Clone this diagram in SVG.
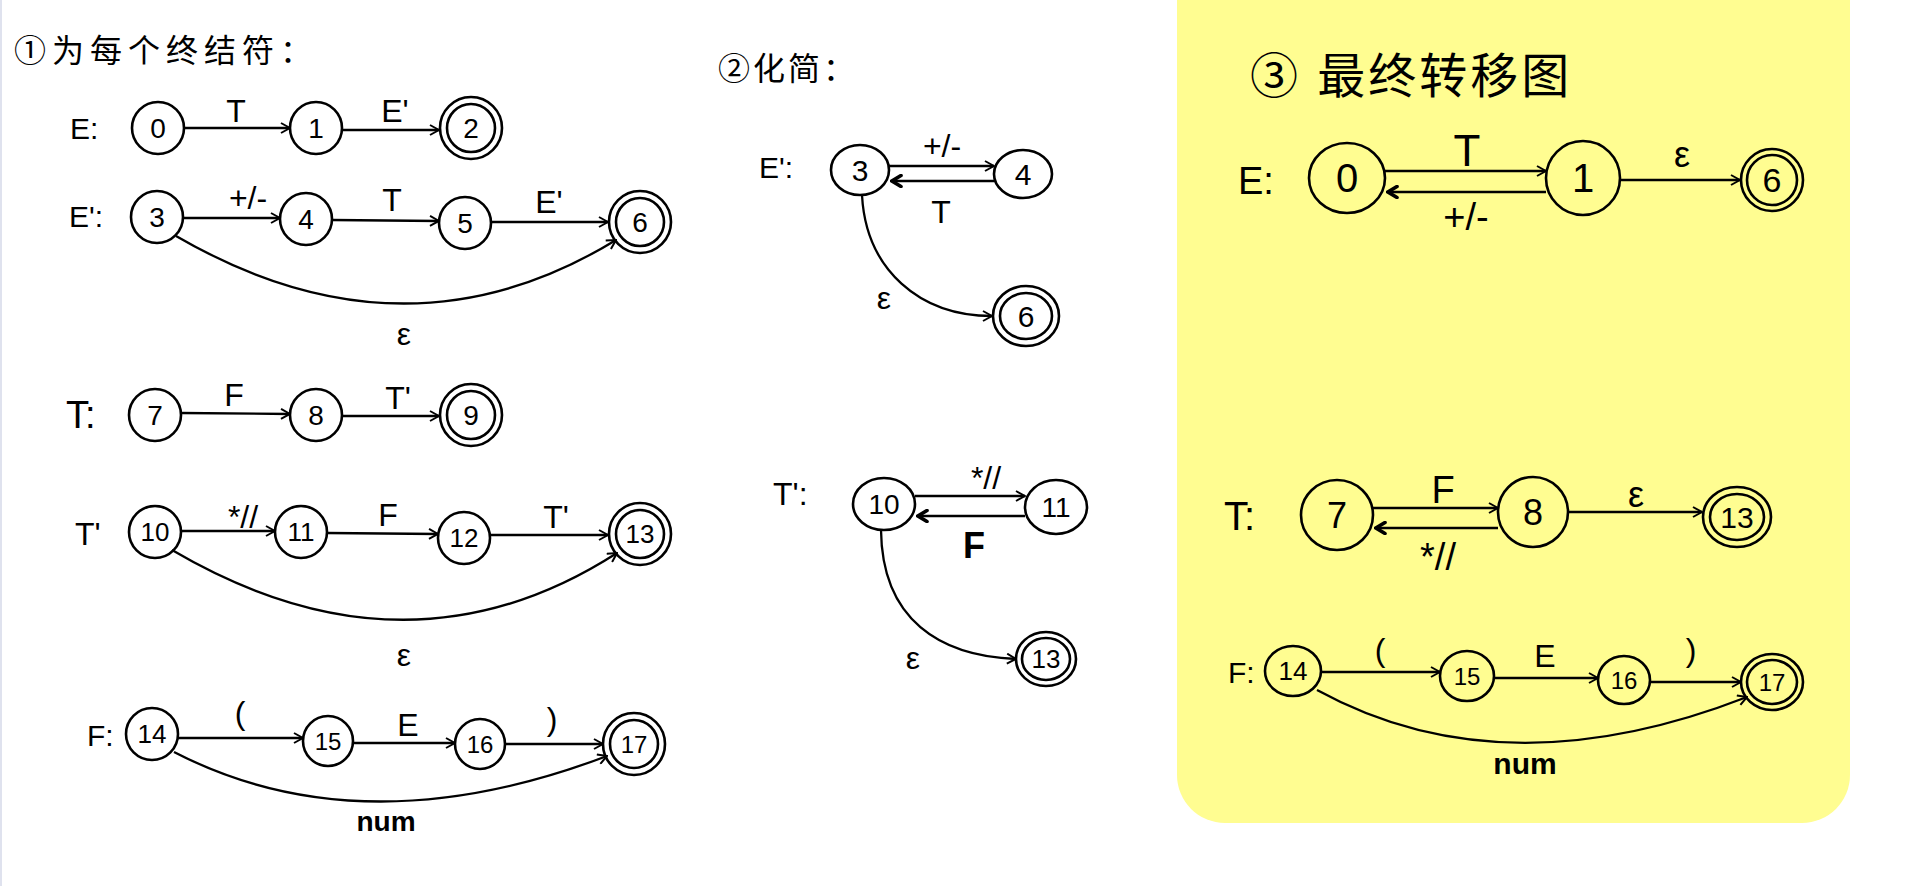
<svg xmlns="http://www.w3.org/2000/svg" width="1907" height="886" viewBox="0 0 1907 886">
<style>
.n{fill:none;stroke:#000;stroke-width:2.6}
.e{fill:none;stroke:#000;stroke-width:2.3;marker-end:url(#arr)}
.eb{fill:none;stroke:#000;stroke-width:2.3;marker-end:url(#arrb)}
.t{font-family:"Liberation Sans","Noto Sans",sans-serif;fill:#000}
.c{text-anchor:middle}
.v{text-anchor:middle;dominant-baseline:central}
.cjk{font-family:"Liberation Sans","Noto Sans CJK SC",sans-serif;fill:#000}
</style>
<defs>
<marker id="arr" viewBox="0 0 12 12" refX="11" refY="6" markerWidth="12" markerHeight="12" markerUnits="userSpaceOnUse" orient="auto"><path d="M2,1 L11,6 L2,11" fill="none" stroke="#000" stroke-width="2"/></marker>
<marker id="arrb" viewBox="0 0 14 14" refX="12" refY="7" markerWidth="14" markerHeight="14" markerUnits="userSpaceOnUse" orient="auto"><path d="M3,1.5 L12,7 L3,12.5" fill="none" stroke="#000" stroke-width="3.6" stroke-linecap="round"/></marker>
</defs>
<rect width="1907" height="886" fill="#fff"/>
<rect x="0" y="0" width="2" height="886" fill="#dfe2ee"/>
<rect x="1177" y="-60" width="673" height="883" rx="48" fill="#FFFD91"/>

<g id="titles">
<text class="cjk" x="14" y="62" font-size="32" letter-spacing="6">①为每个终结符：</text>
<text class="cjk" x="718" y="80" font-size="32" letter-spacing="3">②化简：</text>
<text class="cjk" x="1250" y="93" font-size="48" letter-spacing="3">③ 最终转移图</text>
</g>

<g id="row-labels" class="t">
<text x="70" y="139" font-size="30">E:</text>
<text x="69" y="227" font-size="30">E':</text>
<text x="66" y="428" font-size="38">T:</text>
<text x="75" y="545" font-size="32">T'</text>
<text x="87" y="746" font-size="30">F:</text>
<text x="759" y="178" font-size="30">E':</text>
<text x="773" y="505" font-size="32">T':</text>
<text x="1238" y="194" font-size="38">E:</text>
<text x="1224" y="530" font-size="40">T:</text>
<text x="1228" y="683" font-size="30">F:</text>
</g>

<g id="connectors">
<line class="e" x1="184" y1="128" x2="290" y2="128"/>
<line class="e" x1="342" y1="130" x2="439" y2="130"/>
<line class="e" x1="183" y1="218" x2="280" y2="218"/>
<line class="e" x1="332" y1="220" x2="439" y2="221"/>
<line class="e" x1="491" y1="222" x2="608" y2="222"/>
<path class="e" d="M176,236 Q405,369 616,240"/>
<line class="e" x1="181" y1="413" x2="290" y2="414"/>
<line class="e" x1="342" y1="416" x2="439" y2="416"/>
<line class="e" x1="181" y1="531" x2="275" y2="531"/>
<line class="e" x1="327" y1="533" x2="438" y2="534"/>
<line class="e" x1="490" y1="535" x2="608" y2="535"/>
<path class="e" d="M172,550 Q407,688 617,553"/>
<line class="e" x1="178" y1="738" x2="303" y2="738"/>
<line class="e" x1="353" y1="743" x2="455" y2="743"/>
<line class="e" x1="505" y1="744" x2="603" y2="744"/>
<path class="e" d="M174,752 Q362,849 607,756"/>
<line class="e" x1="889" y1="166" x2="994" y2="166"/>
<line class="eb" x1="995" y1="181" x2="892" y2="181"/>
<path class="e" d="M862,195 C866,270 920,316 992,316"/>
<line class="e" x1="915" y1="496" x2="1025" y2="496"/>
<line class="eb" x1="1025" y1="516" x2="918" y2="516"/>
<path class="e" d="M881,530 C882,620 940,656 1016,659"/>
<line class="e" x1="1385" y1="171" x2="1546" y2="171"/>
<line class="eb" x1="1546" y1="192" x2="1388" y2="192"/>
<line class="e" x1="1620" y1="180" x2="1740" y2="180"/>
<line class="e" x1="1373" y1="508" x2="1498" y2="508"/>
<line class="eb" x1="1498" y1="528" x2="1376" y2="528"/>
<line class="e" x1="1568" y1="512" x2="1702" y2="512"/>
<line class="e" x1="1321" y1="672" x2="1440" y2="672"/>
<line class="e" x1="1494" y1="678" x2="1598" y2="678"/>
<line class="e" x1="1650" y1="682" x2="1741" y2="682"/>
<path class="e" d="M1317,690 Q1503,792 1747,697"/>
</g>

<g id="edge-labels" class="t c">
<text x="236" y="122" font-size="32">T</text>
<text x="395" y="122" font-size="32">E'</text>
<text x="248" y="209" font-size="32">+/-</text>
<text x="392" y="211" font-size="32">T</text>
<text x="549" y="213" font-size="32">E'</text>
<text x="404" y="345" font-size="32">ε</text>
<text x="234" y="406" font-size="32">F</text>
<text x="398" y="409" font-size="32">T'</text>
<text x="243" y="528" font-size="32">*//</text>
<text x="388" y="526" font-size="32">F</text>
<text x="556" y="528" font-size="32">T'</text>
<text x="404" y="666" font-size="32">ε</text>
<text x="240" y="724" font-size="32">(</text>
<text x="408" y="736" font-size="32">E</text>
<text x="552" y="730" font-size="32">)</text>
<text x="386" y="831" font-size="28" font-weight="bold">num</text>
<text x="942" y="157" font-size="32">+/-</text>
<text x="941" y="223" font-size="32">T</text>
<text x="884" y="309" font-size="32">ε</text>
<text x="986" y="489" font-size="32">*//</text>
<text x="974" y="558" font-size="36" font-weight="bold">F</text>
<text x="913" y="669" font-size="32">ε</text>
<text x="1467" y="166" font-size="44">T</text>
<text x="1466" y="230" font-size="38">+/-</text>
<text x="1682" y="167" font-size="36">ε</text>
<text x="1443" y="503" font-size="38">F</text>
<text x="1438" y="570" font-size="38">*//</text>
<text x="1636" y="507" font-size="36">ε</text>
<text x="1380" y="661" font-size="32">(</text>
<text x="1545" y="667" font-size="32">E</text>
<text x="1691" y="661" font-size="32">)</text>
<text x="1525" y="774" font-size="30" font-weight="bold">num</text>
</g>

<g id="n0" class="t"><circle class="n" cx="158" cy="128" r="26"/><text class="v" x="158" y="128" font-size="28">0</text></g>
<g id="n1" class="t"><circle class="n" cx="316" cy="128" r="26"/><text class="v" x="316" y="128" font-size="28">1</text></g>
<g id="n2" class="t"><circle class="n" cx="471" cy="128" r="31"/><circle class="n" cx="471" cy="128" r="24"/><text class="v" x="471" y="128" font-size="28">2</text></g>
<g id="n3" class="t"><circle class="n" cx="157" cy="217" r="26"/><text class="v" x="157" y="217" font-size="28">3</text></g>
<g id="n4" class="t"><circle class="n" cx="306" cy="219" r="26"/><text class="v" x="306" y="219" font-size="28">4</text></g>
<g id="n5" class="t"><circle class="n" cx="465" cy="223" r="26"/><text class="v" x="465" y="223" font-size="28">5</text></g>
<g id="n6" class="t"><circle class="n" cx="640" cy="222" r="31"/><circle class="n" cx="640" cy="222" r="24"/><text class="v" x="640" y="222" font-size="28">6</text></g>
<g id="n7" class="t"><circle class="n" cx="155" cy="415" r="26"/><text class="v" x="155" y="415" font-size="28">7</text></g>
<g id="n8" class="t"><circle class="n" cx="316" cy="415" r="26"/><text class="v" x="316" y="415" font-size="28">8</text></g>
<g id="n9" class="t"><circle class="n" cx="471" cy="415" r="31"/><circle class="n" cx="471" cy="415" r="24"/><text class="v" x="471" y="415" font-size="28">9</text></g>
<g id="n10" class="t"><circle class="n" cx="155" cy="532" r="26"/><text class="v" x="155" y="532" font-size="26">10</text></g>
<g id="n11" class="t"><circle class="n" cx="301" cy="532" r="26"/><text class="v" x="301" y="532" font-size="26">11</text></g>
<g id="n12" class="t"><circle class="n" cx="464" cy="538" r="26"/><text class="v" x="464" y="538" font-size="26">12</text></g>
<g id="n13" class="t"><circle class="n" cx="640" cy="534" r="31"/><circle class="n" cx="640" cy="534" r="24"/><text class="v" x="640" y="534" font-size="26">13</text></g>
<g id="n14" class="t"><circle class="n" cx="152" cy="734" r="26"/><text class="v" x="152" y="734" font-size="26">14</text></g>
<g id="n15" class="t"><circle class="n" cx="328" cy="741" r="25"/><text class="v" x="328" y="741" font-size="24">15</text></g>
<g id="n16" class="t"><circle class="n" cx="480" cy="744" r="25"/><text class="v" x="480" y="744" font-size="24">16</text></g>
<g id="n17" class="t"><circle class="n" cx="634" cy="744" r="31"/><circle class="n" cx="634" cy="744" r="24"/><text class="v" x="634" y="744" font-size="24">17</text></g>

<g id="m3" class="t"><ellipse class="n" cx="860" cy="170" rx="29" ry="25"/><text class="v" x="860" y="170" font-size="30">3</text></g>
<g id="m4" class="t"><ellipse class="n" cx="1023" cy="174" rx="29" ry="24"/><text class="v" x="1023" y="174" font-size="30">4</text></g>
<g id="m6" class="t"><ellipse class="n" cx="1026" cy="316" rx="33" ry="30"/><ellipse class="n" cx="1026" cy="316" rx="26" ry="23"/><text class="v" x="1026" y="316" font-size="30">6</text></g>
<g id="m10" class="t"><ellipse class="n" cx="884" cy="504" rx="31" ry="26"/><text class="v" x="884" y="504" font-size="28">10</text></g>
<g id="m11" class="t"><ellipse class="n" cx="1056" cy="507" rx="31" ry="27"/><text class="v" x="1056" y="507" font-size="28">11</text></g>
<g id="m13" class="t"><ellipse class="n" cx="1046" cy="659" rx="30" ry="27"/><ellipse class="n" cx="1046" cy="659" rx="24" ry="21"/><text class="v" x="1046" y="659" font-size="26">13</text></g>

<g id="f0" class="t"><ellipse class="n" cx="1347" cy="178" rx="38" ry="35"/><text class="v" x="1347" y="178" font-size="40">0</text></g>
<g id="f1" class="t"><ellipse class="n" cx="1583" cy="178" rx="37" ry="37"/><text class="v" x="1583" y="178" font-size="40">1</text></g>
<g id="f6" class="t"><circle class="n" cx="1772" cy="180" r="31"/><circle class="n" cx="1772" cy="180" r="25"/><text class="v" x="1772" y="180" font-size="34">6</text></g>
<g id="f7" class="t"><ellipse class="n" cx="1337" cy="515" rx="36" ry="35"/><text class="v" x="1337" y="515" font-size="36">7</text></g>
<g id="f8" class="t"><ellipse class="n" cx="1533" cy="512" rx="35" ry="35"/><text class="v" x="1533" y="512" font-size="36">8</text></g>
<g id="f13" class="t"><ellipse class="n" cx="1737" cy="517" rx="34" ry="30"/><ellipse class="n" cx="1737" cy="517" rx="27" ry="23"/><text class="v" x="1737" y="517" font-size="30">13</text></g>
<g id="f14" class="t"><ellipse class="n" cx="1293" cy="671" rx="28" ry="25"/><text class="v" x="1293" y="671" font-size="26">14</text></g>
<g id="f15" class="t"><ellipse class="n" cx="1467" cy="676" rx="27" ry="25"/><text class="v" x="1467" y="676" font-size="24">15</text></g>
<g id="f16" class="t"><ellipse class="n" cx="1624" cy="680" rx="26" ry="24"/><text class="v" x="1624" y="680" font-size="24">16</text></g>
<g id="f17" class="t"><ellipse class="n" cx="1772" cy="682" rx="31" ry="28"/><ellipse class="n" cx="1772" cy="682" rx="25" ry="22"/><text class="v" x="1772" y="682" font-size="24">17</text></g>
</svg>
